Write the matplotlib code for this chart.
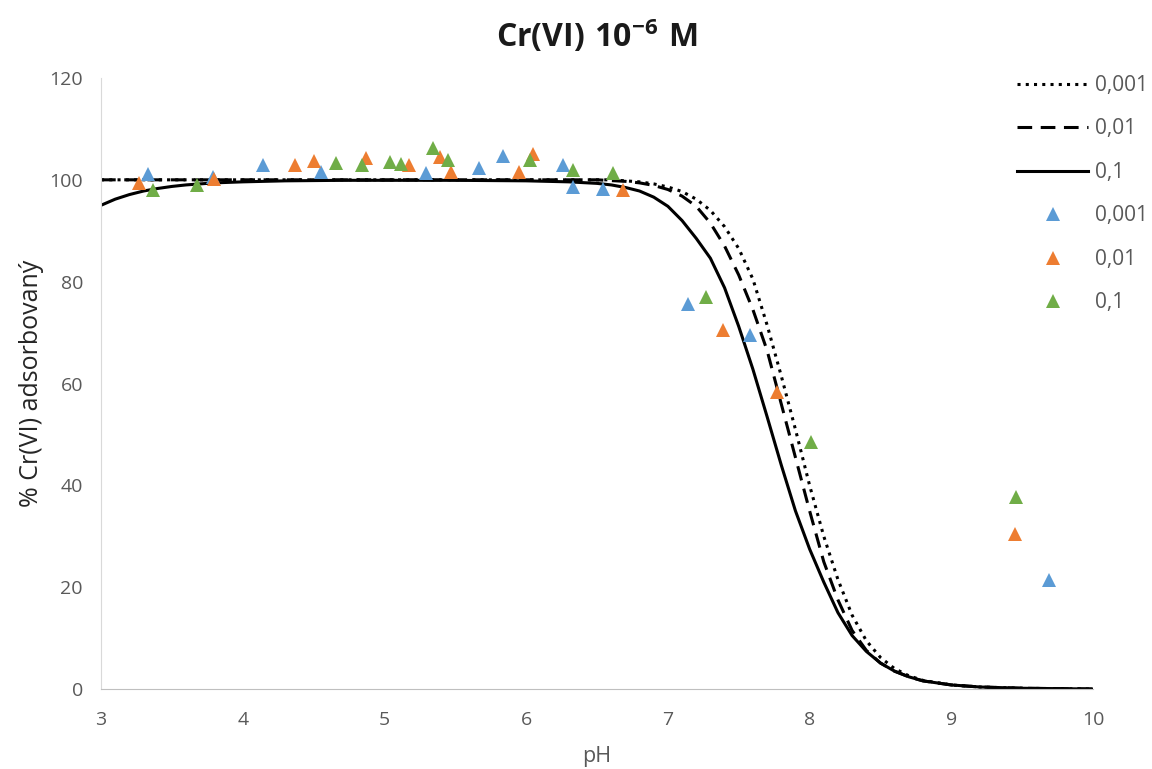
import matplotlib
matplotlib.use('Agg')
import matplotlib.pyplot as plt
from matplotlib.lines import Line2D

# measured points (pH, % adsorbed)
ph_001 = [3.33, 3.79, 4.14, 4.55, 5.29, 5.67, 5.84, 6.26, 6.33, 6.54, 7.14, 7.58, 9.69]
ads_001 = [101.1, 100.6, 103.0, 101.5, 101.3, 102.3, 104.6, 102.9, 98.6, 98.2, 75.7, 69.5, 21.4]

ph_01 = [3.27, 3.80, 4.37, 4.50, 4.87, 5.17, 5.39, 5.47, 5.95, 6.05, 6.68, 7.39, 7.77, 9.45]
ads_01 = [99.3, 100.2, 102.9, 103.7, 104.2, 103.0, 104.4, 101.6, 101.5, 105.0, 98.0, 70.5, 58.4, 30.4]

ph_1 = [3.37, 3.68, 4.66, 4.84, 5.04, 5.12, 5.34, 5.45, 6.03, 6.33, 6.61, 7.27, 8.01, 9.46]
ads_1 = [98.0, 99.0, 103.3, 102.9, 103.5, 103.1, 106.2, 103.8, 103.9, 101.9, 101.3, 77.0, 48.6, 37.8]

# model curves
curve_ph_001 = [3.0, 4.0, 5.0, 6.0, 6.6, 6.8, 6.9, 7.0, 7.1, 7.2, 7.3, 7.4, 7.5, 7.6, 7.7, 7.8,
                7.9, 8.0, 8.1, 8.2, 8.3, 8.4, 8.5, 8.6, 8.7, 8.8, 9.0, 9.2, 9.5, 10.0]
curve_ads_001 = [100.0, 100.0, 100.0, 100.0, 100.0, 99.6, 99.2, 98.6, 97.7, 96.2, 94.0, 90.8, 86.5, 80.5,
                 71.5, 61.5, 51.0, 40.0, 30.0, 21.5, 14.5, 9.5, 6.2, 4.0, 2.6, 1.7, 0.8, 0.4, 0.15, 0.0]

curve_ph_01 = [3.0, 4.0, 5.0, 6.0, 6.5, 6.7, 6.8, 6.9, 7.0, 7.1, 7.2, 7.3, 7.4, 7.5, 7.6, 7.7, 7.8,
               7.9, 8.0, 8.1, 8.2, 8.3, 8.4, 8.5, 8.6, 8.7, 8.8, 9.0, 9.2, 9.5, 10.0]
curve_ads_01 = [100.0, 100.0, 100.0, 100.0, 100.0, 99.7, 99.4, 98.9, 98.1, 96.8, 94.8, 91.5, 87.0, 81.3,
                74.5, 66.5, 56.0, 45.5, 35.0, 25.0, 17.5, 11.5, 7.6, 5.1, 3.5, 2.4, 1.6, 0.8, 0.4, 0.15, 0.0]

curve_ph_1 = [3.0, 3.1, 3.2, 3.3, 3.4, 3.5, 3.6, 3.7, 3.8, 4.0, 4.3, 4.7, 5.5, 6.0, 6.3, 6.5, 6.6,
              6.7, 6.8, 6.9, 7.0, 7.1, 7.2, 7.3, 7.4, 7.5, 7.6, 7.7, 7.8, 7.9, 8.0, 8.1, 8.2, 8.3,
              8.4, 8.5, 8.6, 8.7, 8.8, 9.0, 9.2, 9.5, 10.0]
curve_ads_1 = [95.0, 96.2, 97.1, 97.8, 98.3, 98.7, 99.0, 99.2, 99.4, 99.6, 99.8, 99.9, 99.9, 99.8, 99.6,
               99.3, 99.0, 98.5, 97.8, 96.6, 94.8, 92.0, 88.5, 84.6, 78.8, 71.2, 62.8, 53.5, 44.0, 35.0,
               27.5, 21.0, 15.0, 10.5, 7.4, 5.1, 3.5, 2.4, 1.6, 0.8, 0.4, 0.15, 0.0]

labels = ['0,001', '0,01', '0,1']
colors = ['#5B9BD5', '#ED7D31', '#70AD47']
text_gray = '#595959'

plt.rcParams['font.family'] = ['Open Sans', 'DejaVu Sans']
plt.rcParams['mathtext.fontset'] = 'custom'
plt.rcParams['mathtext.bf'] = 'Open Sans:bold'
plt.rcParams['mathtext.rm'] = 'Open Sans'

fig = plt.figure(figsize=(11.52, 7.69), dpi=100)
ax = fig.add_axes([0.0877, 0.104, 0.8611, 0.7946])

l1, = ax.plot(curve_ph_001, curve_ads_001, color='black', lw=2.2, linestyle=(0, (1, 1.7)))
l2, = ax.plot(curve_ph_01, curve_ads_01, color='black', lw=2.2, linestyle=(0, (4.8, 2.8)))
l3, = ax.plot(curve_ph_1, curve_ads_1, color='black', lw=2.2)

for xs, ys, c in [(ph_001, ads_001, colors[0]), (ph_01, ads_01, colors[1]), (ph_1, ads_1, colors[2])]:
    ax.plot(xs, ys, linestyle='none', marker='^', markersize=10, color=c,
            markeredgewidth=0, zorder=3)

ax.set_xlim(3, 10)
ax.set_ylim(0, 120)
ax.set_xticks(range(3, 11))
ax.set_yticks(range(0, 121, 20))
ax.tick_params(axis='both', length=0, labelsize=14, labelcolor=text_gray)
ax.tick_params(axis='y', pad=13)
ax.tick_params(axis='x', pad=16)
for s in ['top', 'right']:
    ax.spines[s].set_visible(False)
ax.spines['left'].set_color('#d9d9d9')
ax.spines['bottom'].set_color('#bfbfbf')

ax.set_xlabel('pH', fontsize=15.5, color=text_gray, labelpad=12)
ax.set_ylabel('% Cr(VI) adsorbovaný', fontsize=18, color='#262626', labelpad=4)

ax.set_title(r'$\mathbf{Cr(VI)\ 10^{-6}\ M}$', fontsize=23, color='#1a1a1a', pad=22)

handles = [l1, l2, l3]
for c in colors:
    handles.append(Line2D([], [], linestyle='none', marker='^', markersize=10, color=c, markeredgewidth=0))
fig.legend(handles, labels + labels, loc='upper right', bbox_to_anchor=(1.013, 0.927),
           frameon=False, fontsize=15, labelcolor=text_gray, handlelength=3.4,
           handletextpad=0.35, labelspacing=1.08, numpoints=1)

fig.savefig('out.png', dpi=100)
